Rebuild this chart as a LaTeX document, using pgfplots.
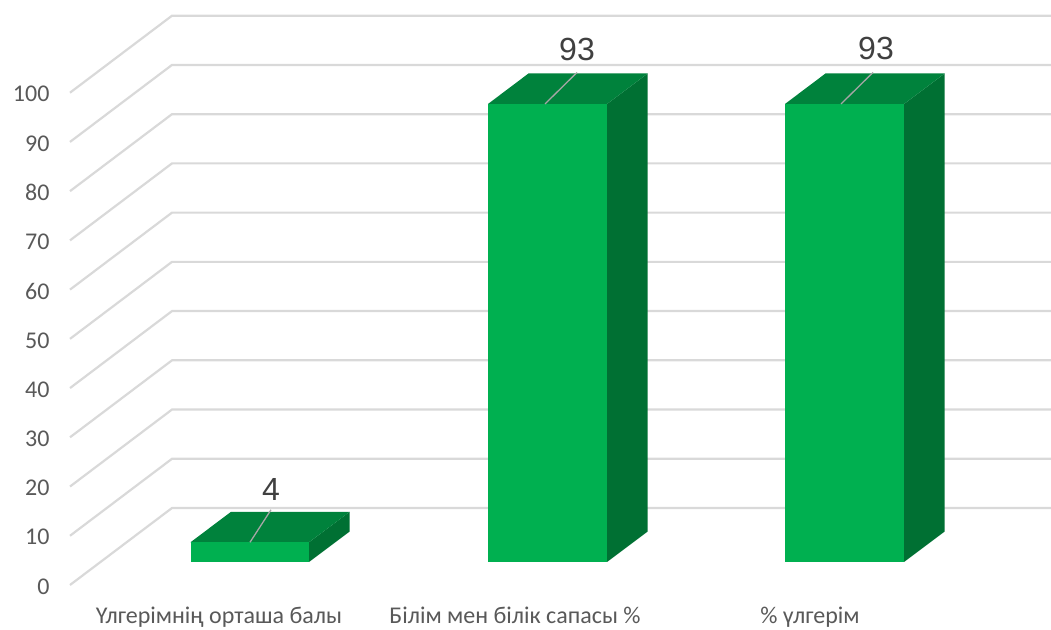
\documentclass[border=0pt]{standalone}
\usepackage{fontspec}
\setmainfont{Carlito}
\newfontfamily\lab{Liberation Sans}
\usepackage{pgfplots}
\pgfplotsset{compat=1.18}
\definecolor{gridc}{HTML}{D9D9D9}
\definecolor{txt}{HTML}{595959}
\definecolor{front}{HTML}{00B050}
\definecolor{topc}{HTML}{00823C}
\definecolor{sidec}{HTML}{007033}
\pgfplotsset{base/.style={
  at={(53pt,29pt)},anchor=south west,
  scale only axis,width=998pt,height=600pt,
  xmin=53,xmax=1051,
  axis line style={draw=none},tick style={draw=none},
  clip=false}}
\begin{document}
\begin{tikzpicture}[x=1pt,y=1pt]
\path[use as bounding box] (0,0) rectangle (1051,629);
\begin{axis}[base,
  ymin=-3.047,ymax=118.83,
  ytick={0,10,...,100},
  xtick={219,515,810},
  xticklabels={Үлгерімнің орташа балы,Білім мен білік сапасы \%,\% үлгерім},
  /pgf/number format/assume math mode=true,
  tick label style={text=txt,font=\fontsize{24}{26}\selectfont},
  yticklabel style={anchor=east,xshift=0pt,yshift=-1.5pt},
  xtick pos=bottom,
  xticklabel style={anchor=base,yshift=-23pt,font=\fontsize{24}{26}\selectfont},
]
\pgfplotsinvokeforeach{0,10,20,30,40,50,60,70,80,90,100}{
  \pgfmathsetmacro\b{#1+15.64}
  \addplot[color=gridc,line width=2.2pt] coordinates {(70,#1) (172,\b) (1051,\b)};
}
\end{axis}
\begin{axis}[base,
  ymin=-7.716,ymax=114.11,
  xtick=\empty,ytick=\empty]
% bar 1 (4)
\addplot[fill=sidec,draw=none] coordinates {(309,0) (349.7,6.19) (349.7,10.19) (309,4)} -- cycle;
\addplot[fill=topc,draw=none] coordinates {(190.5,4) (309,4) (349.7,10.19) (231,10.19)} -- cycle;
\addplot[fill=front,draw=none] coordinates {(190.5,0) (309,0) (309,4) (190.5,4)} -- cycle;
% bar 2 (93)
\addplot[fill=sidec,draw=none] coordinates {(607,0) (647.7,6.19) (647.7,99.19) (607,93)} -- cycle;
\addplot[fill=topc,draw=none] coordinates {(488,93) (607,93) (647.7,99.19) (528.5,99.19)} -- cycle;
\addplot[fill=front,draw=none] coordinates {(488,0) (607,0) (607,93) (488,93)} -- cycle;
% bar 3 (93)
\addplot[fill=sidec,draw=none] coordinates {(904,0) (944.7,6.19) (944.7,99.19) (904,93)} -- cycle;
\addplot[fill=topc,draw=none] coordinates {(785,93) (904,93) (944.7,99.19) (825.5,99.19)} -- cycle;
\addplot[fill=front,draw=none] coordinates {(785,0) (904,0) (904,93) (785,93)} -- cycle;
% leader lines
\addplot[color=black!35,line width=1.3pt] coordinates {(250,4) (271,10.6)};
\addplot[color=black!35,line width=1.3pt] coordinates {(545,93) (577,99.4)};
\addplot[color=black!35,line width=1.3pt] coordinates {(841,93) (873,99.4)};
% data labels
\node[text=black!75,font=\lab\fontsize{32}{34}\selectfont] at (axis cs:271,14.8) {4};
\node[text=black!75,font=\lab\fontsize{32}{34}\selectfont] at (axis cs:577,104.1) {93};
\node[text=black!75,font=\lab\fontsize{32}{34}\selectfont] at (axis cs:876,104.2) {93};
\end{axis}
\end{tikzpicture}
\end{document}
